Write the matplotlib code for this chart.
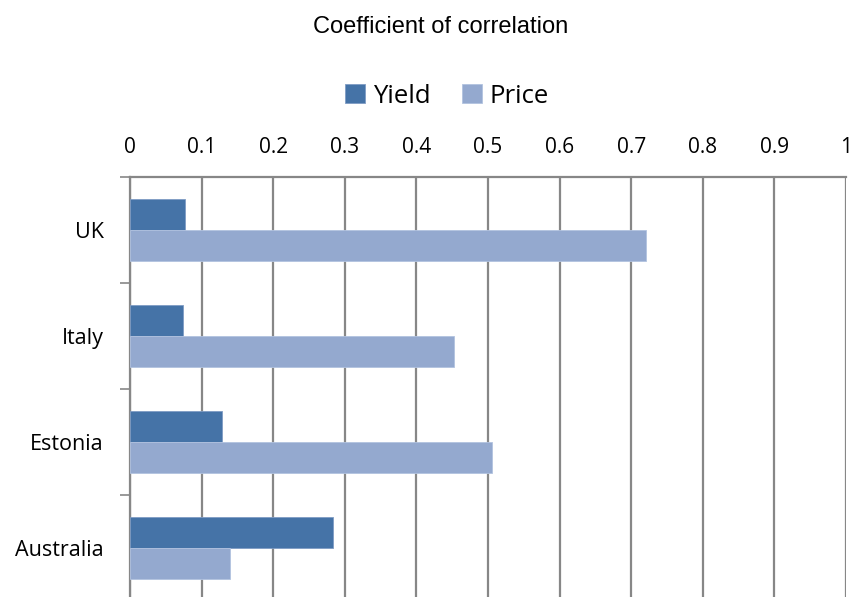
import matplotlib
matplotlib.use('Agg')
import numpy as np
import matplotlib.pyplot as plt
from matplotlib.ticker import FixedLocator

countries = ['UK', 'Italy', 'Estonia', 'Australia']
yield_corr = [0.077, 0.074, 0.129, 0.284]
price_corr = [0.720, 0.453, 0.505, 0.140]
xticks = [0, 0.1, 0.2, 0.3, 0.4, 0.5, 0.6, 0.7, 0.8, 0.9, 1]
xtick_labels = ['0', '0.1', '0.2', '0.3', '0.4', '0.5', '0.6', '0.7', '0.8', '0.9', '1']

yield_color = '#4573a7'
price_color = '#94a9cf'
grid_color = '#878787'
label_font = 'Open Sans'

fig = plt.figure(figsize=(8.51, 5.97), dpi=100)
W, H = 851, 597
left, right, top, bottom = 130, 846, 177, 601
ax = fig.add_axes([left / W, (H - bottom) / H, (right - left) / W, (bottom - top) / H])

y = np.arange(len(countries))
bh = 0.29
ax.barh(y - bh / 2, yield_corr, height=bh, color=yield_color, edgecolor='#7f9cc4',
        linewidth=0.6, label='Yield', zorder=3)
ax.barh(y + bh / 2, price_corr, height=bh, color=price_color, edgecolor='#b2c3e0',
        linewidth=0.6, label='Price', zorder=3)

ax.set_xlim(0, 1)
ax.set_ylim(3.5, -0.5)

# value axis on top, gridlines only
ax.xaxis.tick_top()
ax.set_xticks(xticks)
ax.set_xticklabels(xtick_labels, fontsize=15, family=label_font)
ax.tick_params(axis='x', length=0, pad=14)
ax.grid(axis='x', color=grid_color, linewidth=1.6, zorder=0)

# category axis: labels at centres, tick marks at boundaries
ax.set_yticks(y)
ax.set_yticklabels(countries, fontsize=15.5, family=label_font)
ax.yaxis.set_minor_locator(FixedLocator([-0.5, 0.5, 1.5, 2.5]))
ax.tick_params(axis='y', which='major', length=0, pad=19)
ax.tick_params(axis='y', which='minor', length=7.5, width=1.2, color=grid_color)

for s in ['right', 'bottom']:
    ax.spines[s].set_visible(False)
ax.spines['top'].set_color(grid_color)
ax.spines['top'].set_linewidth(1.6)
ax.spines['left'].set_color(grid_color)
ax.spines['left'].set_linewidth(1.6)

fig.text(441 / W, 1 - 27 / H, 'Coefficient of correlation', ha='center', va='center',
         fontsize=17, family='Liberation Sans')

fig.legend(loc='center', bbox_to_anchor=(447 / W, 1 - 96 / H), ncol=2, frameon=False,
           handlelength=0.8, handleheight=0.8, handletextpad=0.3, columnspacing=1.2,
           prop={'family': label_font, 'size': 18.5})

fig.savefig('out.png', dpi=100)
